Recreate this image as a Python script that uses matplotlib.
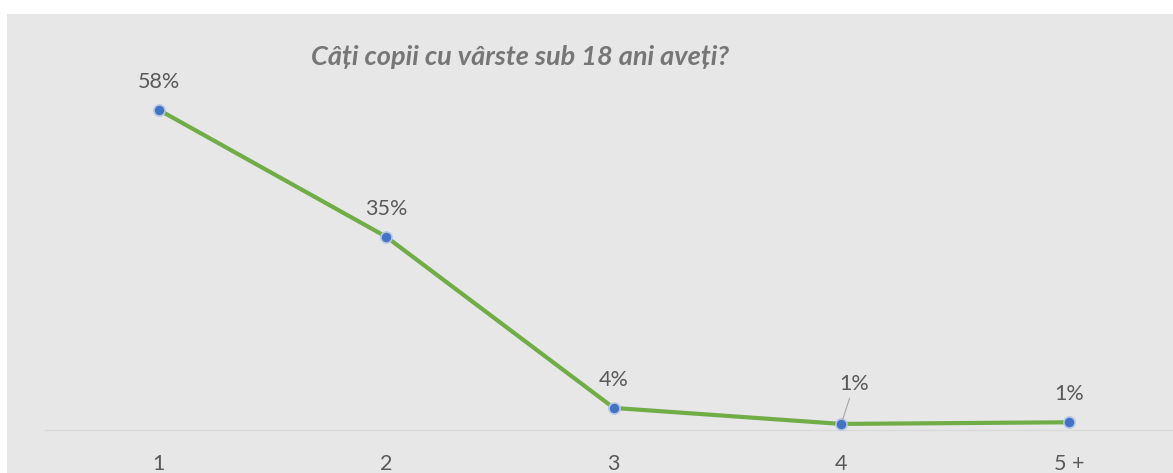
import numpy as np
import matplotlib.pyplot as plt
from matplotlib.patches import Rectangle

plt.rcParams['font.family'] = ['Lato', 'DejaVu Sans']

categories = ['1', '2', '3', '4', '5 +']
values = [0.58, 0.35, 0.04, 0.011, 0.014]
labels = ['58%', '35%', '4%', '1%', '1%']
title = 'Câți copii cu vârste sub 18 ani aveți?'

W, H = 1173, 473
fig = plt.figure(figsize=(W / 100, H / 100), dpi=100)
fig.patch.set_facecolor('white')
# grey chart area, white strip at top and left
fig.patches.append(Rectangle((7 / W, 0), 1, 1 - 14 / H, transform=fig.transFigure,
                             facecolor='#e7e7e7', edgecolor='none', zorder=-1))

ax = fig.add_axes([45 / W, 43 / H, 1137.5 / W, 386.4 / H])
ax.set_zorder(2)
ax.set_facecolor('none')
x = np.arange(len(categories))
ax.plot(x, values, color='#70ad47', lw=3, zorder=2, solid_capstyle='round')
ax.plot(x, values, 'o', ms=8, mfc='#4472c4', mec='#b4c7e7', mew=1.2, zorder=3)

ax.set_xlim(-0.5, 4.5)
ax.set_ylim(0, 0.7)
for s in ['top', 'right', 'left']:
    ax.spines[s].set_visible(False)
ax.spines['bottom'].set_color('#d9d9d9')
ax.spines['bottom'].set_linewidth(1)
ax.set_yticks([])
ax.set_xticks(x)
ax.set_xticklabels(categories)
ax.tick_params(axis='x', length=0, pad=17, labelsize=15.5, labelcolor='#595959')

for i, (v, lab) in enumerate(zip(values, labels)):
    if i == 3:
        ax.annotate(lab, (i, v), xytext=(13, 30), textcoords='offset pixels',
                    ha='center', va='bottom', fontsize=15.5, color='#595959',
                    arrowprops=dict(arrowstyle='-', color='#a6a6a6', lw=0.8,
                                    shrinkA=1, shrinkB=3))
    else:
        ax.annotate(lab, (i, v), xytext=(0, 18), textcoords='offset pixels',
                    ha='center', va='bottom', fontsize=15.5, color='#595959')

fig.text(520 / W, 1 - 57 / H, title, ha='center', va='center', fontsize=19.5,
         fontweight='bold', fontstyle='italic', color='#767676')

plt.savefig('out.png', dpi=100)
